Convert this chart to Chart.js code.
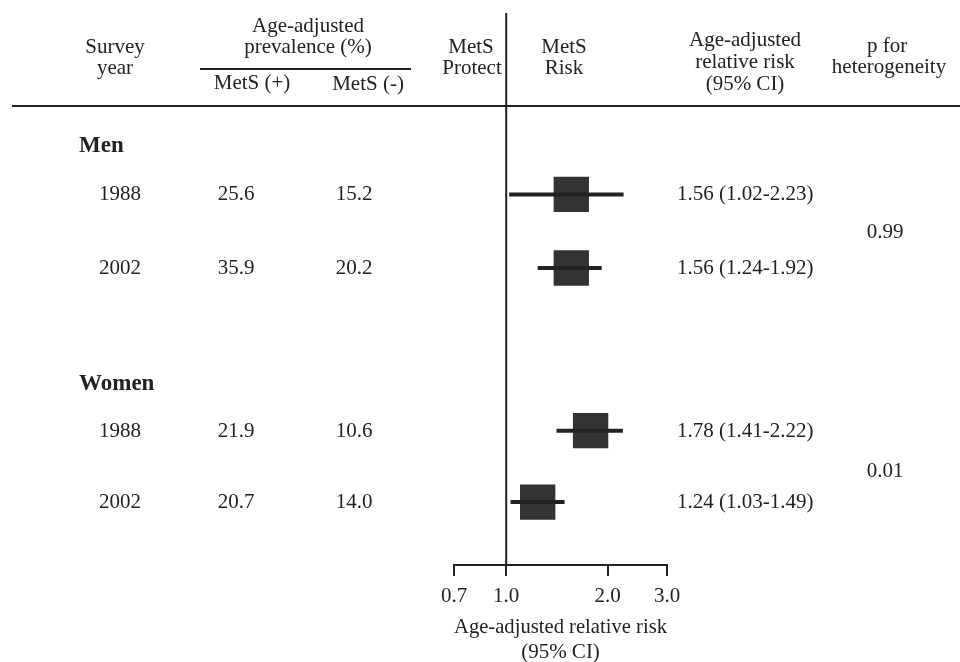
<!DOCTYPE html>
<html>
<head>
<meta charset="utf-8">
<script src="https://cdn.jsdelivr.net/npm/chart.js@4.4.1/dist/chart.umd.min.js"></script>
<style>
  html, body { margin: 0; padding: 0; background: #ffffff; }
  #wrap { width: 960px; height: 662px; }
</style>
</head>
<body>
<div id="wrap"><canvas id="c" width="960" height="662"></canvas></div>
<script>
// ---- data ----
const groups = ['Men', 'Women'];
const years = ['1988', '2002', '1988', '2002'];
const prevMetSPos = [25.6, 35.9, 21.9, 20.7];
const prevMetSNeg = [15.2, 20.2, 10.6, 14.0];
const rrEst  = [1.56, 1.56, 1.78, 1.24];
const rrLow  = [1.02, 1.24, 1.41, 1.03];
const rrHigh = [2.23, 1.92, 2.22, 1.49];
const pHet = ['0.99', '0.01'];
const xTicks = [0.7, 1.0, 2.0, 3.0];

// ---- layout (row positions on the hidden vertical scale) ----
const rowPos = [4.93, 6.93, 11.35, 13.29];
const groupPos = [3.59, 10.05];
const pPos = [5.95, 12.45];

const SERIF = "'Liberation Serif', 'DejaVu Serif', serif";
const INK = '#222222';

const datasets = [];
// reference line at RR = 1
datasets.push({
  type: 'line', data: [{x: 1, y: 0}, {x: 1, y: 15}],
  borderColor: INK, borderWidth: 2, pointRadius: 0, clip: false
});
// confidence intervals
rrEst.forEach((e, i) => {
  datasets.push({
    type: 'line', data: [{x: rrLow[i], y: rowPos[i]}, {x: rrHigh[i], y: rowPos[i]}],
    borderColor: INK, borderWidth: 4, pointRadius: 0, borderCapStyle: 'butt'
  });
});
// point estimates
datasets.push({
  type: 'scatter',
  data: rrEst.map((e, i) => ({x: e, y: rowPos[i]})),
  pointStyle: 'rect', pointRadius: 25, backgroundColor: '#333333', borderWidth: 0
});

const tablePlugin = {
  id: 'table',
  afterDraw(chart) {
    const ctx = chart.ctx;
    const ys = chart.scales.y;
    ctx.save();
    ctx.fillStyle = INK;
    ctx.strokeStyle = INK;
    const txt = (s, x, y, align, font) => {
      ctx.font = font || ('21px ' + SERIF);
      ctx.textAlign = align || 'center';
      ctx.textBaseline = 'alphabetic';
      ctx.fillText(s, x, y);
    };
    // header
    txt('Survey', 115, 53);
    txt('year', 115, 74);
    txt('Age-adjusted', 308, 32);
    txt('prevalence (%)', 308, 53);
    txt('MetS (+)', 252, 89);
    txt('MetS (-)', 368, 90);
    txt('MetS', 471, 53);
    txt('Protect', 472, 74);
    txt('MetS', 564, 53);
    txt('Risk', 564, 74);
    txt('Age-adjusted', 745, 46);
    txt('relative risk', 745, 68);
    txt('(95% CI)', 745, 90);
    txt('p for', 887, 52);
    txt('heterogeneity', 889, 73);
    // rules
    ctx.lineWidth = 2;
    ctx.beginPath();
    ctx.moveTo(200, 69); ctx.lineTo(411, 69);
    ctx.moveTo(12, 106); ctx.lineTo(960, 106);
    ctx.stroke();
    // group labels
    groups.forEach((g, k) => {
      txt(g, 79, ys.getPixelForValue(groupPos[k]) + 7, 'left', 'bold 23px ' + SERIF);
    });
    // rows
    years.forEach((yr, i) => {
      const y = ys.getPixelForValue(rowPos[i]) + 6;
      txt(yr, 120, y);
      txt(prevMetSPos[i].toFixed(1), 236, y);
      txt(prevMetSNeg[i].toFixed(1), 354, y);
      txt(rrEst[i].toFixed(2) + ' (' + rrLow[i].toFixed(2) + '-' + rrHigh[i].toFixed(2) + ')', 677, y, 'left');
    });
    pHet.forEach((p, k) => {
      txt(p, 885, ys.getPixelForValue(pPos[k]) + 6);
    });
    ctx.restore();
  }
};

new Chart(document.getElementById('c'), {
  data: { datasets },
  options: {
    responsive: false,
    animation: false,
    layout: { autoPadding: false, padding: { left: 454, right: 293, top: 13, bottom: 0 } },
    plugins: { legend: { display: false }, tooltip: { enabled: false } },
    scales: {
      x: {
        type: 'logarithmic', min: 0.7, max: 3.0,
        afterBuildTicks: s => { s.ticks = xTicks.map(v => ({value: v})); },
        afterFit: s => { s.height = 97; },
        ticks: {
          autoSkip: false, maxRotation: 0, padding: 8, color: INK,
          font: { family: SERIF, size: 21 },
          callback: v => Number(v).toFixed(1)
        },
        grid: { drawOnChartArea: false, drawTicks: true, tickLength: 11, color: INK, lineWidth: 2 },
        border: { display: true, color: INK, width: 2 },
        title: {
          display: true, text: ['Age-adjusted relative risk', '(95% CI)'],
          color: INK, font: { family: SERIF, size: 21, lineHeight: 1.2 }, padding: { top: 0, bottom: -3 }
        }
      },
      y: { type: 'linear', min: 0, max: 15, reverse: true, display: false }
    }
  },
  plugins: [tablePlugin]
});
</script>
</body>
</html>
